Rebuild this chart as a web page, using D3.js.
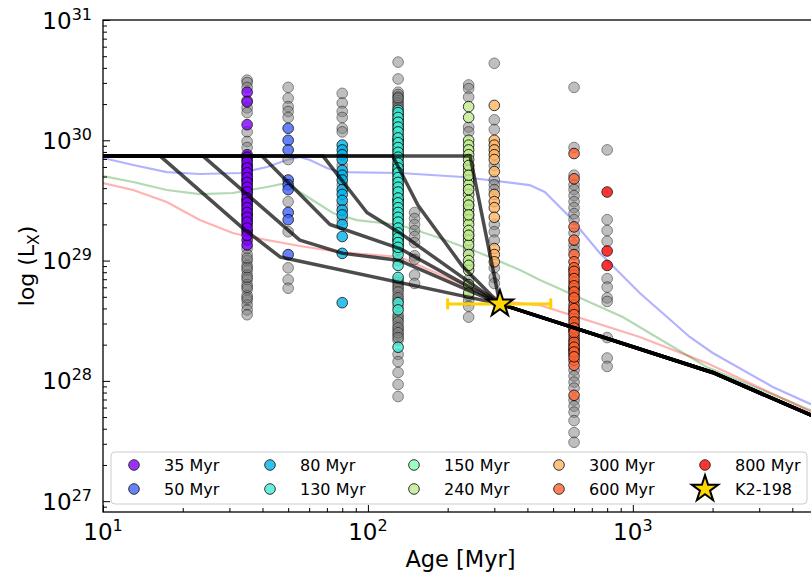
<!DOCTYPE html>
<html><head><meta charset="utf-8">
<script src="https://cdn.jsdelivr.net/npm/d3@7"></script>
<style>body{margin:0;background:#fff}svg{display:block;font-family:"DejaVu Sans",sans-serif}</style>
</head><body><svg id="c" width="811" height="576"></svg>
<script>
// ---------------- DATA ----------------
const clusterAges = [35, 50, 80, 130, 150, 240, 300, 600, 800];
const clusterLabels = ["35 Myr","50 Myr","80 Myr","130 Myr","150 Myr","240 Myr","300 Myr","600 Myr","800 Myr"];
// log10(Lx) of all stars (grey) and of the selected stars (coloured), per cluster
const gray35 = [30.50,30.48,30.44,30.33,30.27,30.23,30.07,29.99,29.94,29.79,29.67,29.50,29.38,29.25,29.10,29.05,29.00,28.96,28.92,28.88,28.84,28.80,28.76,28.71,28.67,28.63,28.59,28.55,29.02,28.94,28.86,28.78,28.69];
const sel35  = [30.40,30.32,30.13,29.88,29.84,29.79,29.75,29.71,29.67,29.63,29.59,29.55,29.50,29.46,29.42,29.38,29.34,29.30,29.24,29.17,29.13,29.86,29.82,29.77,29.73,29.69,29.65,29.61,29.57,29.52,29.48,29.44,29.40,29.36,29.32,29.27,29.21];
const gray50 = [30.44,30.35,30.28,30.24,30.19,29.84,29.49,29.24,28.94,28.84,28.77];
const sel50  = [30.10,30.00,29.92,29.67,29.63,29.59,29.40,29.34,29.05];
const gray80 = [30.39,30.31,30.24,30.19,30.10,30.07,29.79,29.63,29.46,29.34];
const sel80  = [29.96,29.92,29.88,29.84,29.75,29.71,29.67,29.59,29.55,29.50,29.42,29.38,29.30,29.20,29.06,28.65];
const gray130 = [30.65,30.51,30.40,30.38,30.36,30.33,30.31,30.29,30.00,29.75,29.50,29.17,29.00,28.84,28.80,28.76,28.71,28.67,28.55,28.51,28.46,28.42,28.38,28.34,28.22,28.16,28.07,27.97,27.87,30.35,30.27,28.82,28.78,28.74,28.69,28.62,28.53,28.49,28.44,28.40,28.36];
const sel130  = [30.25,30.21,30.17,30.13,30.09,30.04,30.00,29.96,29.92,29.88,29.84,29.79,29.75,29.71,29.67,29.63,29.59,29.55,29.50,29.46,29.42,29.38,29.34,29.30,29.25,29.21,29.17,29.13,29.09,29.05,28.96,28.86,28.65,28.59,28.28,30.23,30.19,30.15,30.11,30.07,30.02,29.98,29.94,29.90,29.86,29.81,29.77,29.73,29.69,29.65,29.61,29.57,29.52,29.48,29.44,29.40,29.36,29.32,29.27,29.23,29.19,29.15,29.11];
const gray150 = [29.40,29.35,29.30,29.25,29.20,29.15,29.04,29.01,28.88,28.81];
const sel150  = [];
const gray240 = [30.46,30.43,30.36,30.11,30.07,29.79,29.71,29.59,29.46,29.38,29.21,29.09,28.96,28.84,28.71,28.67,28.62,28.53];
const sel240  = [30.28,30.19,30.00,29.96,29.92,29.88,29.84,29.75,29.67,29.63,29.55,29.50,29.42,29.34,29.30,29.25,29.17,29.13,29.05,29.00,28.92,28.80,28.73,29.79,29.71,29.59,29.46,29.38,29.21,28.96];
const gray300 = [30.64,30.17,30.09,29.79,29.67,29.63,29.59,29.30,29.24,29.17,28.94,28.86,28.81];
const sel300  = [30.29,30.00,29.96,29.92,29.88,29.84,29.74,29.55,29.49,29.44,29.36,29.10,29.05,28.99];
const gray600 = [30.44,29.94,29.71,29.63,29.59,29.54,29.49,29.44,29.39,29.34,29.23,29.13,29.09,28.92,28.76,28.59,28.42,28.26,28.09,28.04,27.99,27.94,27.84,27.79,27.74,27.67,27.57,27.49];
const sel600  = [29.89,29.68,29.28,29.17,29.05,28.99,28.94,28.88,28.82,28.77,28.71,28.67,28.63,28.57,28.52,28.46,28.42,28.37,28.34,28.30,28.26,28.22,28.17,28.13,27.88,28.91,28.85,28.79,28.74,28.69,28.60,28.55,28.49,28.44,28.40,28.32,28.28,28.24,28.20];
const gray800 = [29.92,29.34,29.25,29.16,28.85,28.78,28.69,28.66,28.36,28.19,28.12];
const sel800  = [29.57,29.08,28.96];

// K2-198
const starAge = 315, starAgeLo = 200, starAgeHi = 490, starLogLx = 28.64;

// evolutionary tracks [age Myr, log Lx]
const postStar = [[315,28.64],[2000,28.07],[5000,27.69]];
const track1 = [[5,29.87],[16.4,29.87],[33.7,29.27],[46.6,29.03]];
const track2 = [[5,29.87],[23.8,29.87],[55.3,29.17],[80.5,29.06],[132,29.00]];
const track3 = [[5,29.87],[39.8,29.87],[71.9,29.30],[132,29.10]];
const track4 = [[5,29.87],[67.6,29.87],[99.1,29.40],[132,29.23]];
const track5 = [[5,29.87],[124,29.87],[154.5,29.46],[228,28.95]];
const track6 = [[5,29.87],[243,29.87]];

// model curves [age Myr, log Lx]
const modelBlue = [[10,29.853],[13,29.795],[17.4,29.736],[23.2,29.72],[32.9,29.728],[41.6,29.778],[49.4,29.836],[55.3,29.861],[60.4,29.836],[70,29.77],[78.4,29.736],[132,29.728],[228,29.695],[408,29.628],[465,29.57],[578,29.362],[750,29.063],[1062,28.73],[1640,28.365],[2004,28.232],[3375,27.95],[5000,27.78]];
const modelGreen = [[10,29.703],[13,29.653],[17.4,29.587],[23.2,29.553],[30.9,29.562],[41.6,29.612],[49.4,29.645],[55.3,29.57],[73.8,29.396],[90.8,29.337],[132,29.296],[182,29.196],[265,29.063],[375,28.922],[446,28.839],[916,28.531],[1901,28.115],[5000,27.73]];
const modelRed = [[10,29.645],[13,29.587],[17.4,29.487],[23.2,29.337],[30.9,29.229],[35.9,29.196],[55.3,29.121],[78.4,29.071],[132,29.03],[222,28.814],[335,28.656],[446,28.63],[1062,28.365],[1901,28.149],[5000,27.716]];

const xMajor = [10, 100, 1000];
const yMajor = [1e27, 1e28, 1e29, 1e30, 1e31];

// ---------------- DRAW ----------------
const svg = d3.select("#c");
const L = 103, T = 20, R = 818, B = 512;
const x = d3.scaleLog().domain([10, 5000]).range([L, R]);
const y = d3.scaleLog().domain([Math.pow(10, 26.91), 1e31]).range([B, T]);
const Y = v => y(Math.pow(10, v));

svg.append("defs").append("clipPath").attr("id","clip")
  .append("rect").attr("x",L).attr("y",T).attr("width",R-L).attr("height",B-T);
const plot = svg.append("g").attr("clip-path","url(#clip)");

const rainbow = t => { const r=Math.min(1,Math.abs(2*t-0.5)), g=Math.sin(Math.PI*t), b=Math.cos(Math.PI*t/2);
  return d3.rgb(r*255,g*255,b*255).formatHex(); };
const colors = clusterAges.map((d,i)=>rainbow(i/(clusterAges.length-1)));

const line = d3.line().x(d=>x(d[0])).y(d=>Y(d[1]));
[[modelBlue,"blue"],[modelGreen,"green"],[modelRed,"red"]].forEach(([d,c])=>{
  plot.append("path").attr("d",line(d)).attr("fill","none").attr("stroke",c)
    .attr("stroke-opacity",0.3).attr("stroke-width",2.2);
});

const grays = [gray35,gray50,gray80,gray130,gray150,gray240,gray300,gray600,gray800];
const sels = [sel35,sel50,sel80,sel130,sel150,sel240,sel300,sel600,sel800];
clusterAges.forEach((age,i)=>{
  plot.append("g").selectAll("circle").data(grays[i]).join("circle")
    .attr("cx",x(age)).attr("cy",d=>Y(d)).attr("r",5.3)
    .attr("fill","gray").attr("stroke","black").attr("stroke-width",1).attr("opacity",0.5);
  plot.append("g").selectAll("circle").data(sels[i]).join("circle")
    .attr("cx",x(age)).attr("cy",d=>Y(d)).attr("r",5.3)
    .attr("fill",colors[i]).attr("stroke","black").attr("stroke-width",1).attr("opacity",0.8);
});

[track1,track2,track3,track4,track5,track6].forEach(t=>{
  plot.append("path").attr("d",line(t.concat(postStar))).attr("fill","none")
    .attr("stroke","black").attr("stroke-opacity",0.7).attr("stroke-width",3.5)
    .attr("stroke-linejoin","round");
});

// error bar + star
const eb = plot.append("g").attr("stroke","#ffd000").attr("stroke-width",3);
eb.append("line").attr("x1",x(starAgeLo)).attr("x2",x(starAgeHi)).attr("y1",Y(starLogLx)).attr("y2",Y(starLogLx));
[starAgeLo,starAgeHi].forEach(a=>eb.append("line").attr("x1",x(a)).attr("x2",x(a)).attr("y1",Y(starLogLx)-5.5).attr("y2",Y(starLogLx)+5.5));
const star = d3.symbol().type(d3.symbolStar).size(215);
plot.append("path").attr("d",star()).attr("transform",`translate(${x(starAge)},${Y(starLogLx)})`)
  .attr("fill","#ffd700").attr("stroke","black").attr("stroke-width",2).attr("stroke-linejoin","miter");

// axes (ticks inward)
const xMinor = [];
[10,100,1000].forEach(b=>{for(let k=2;k<=9;k++) if(b*k<=5000) xMinor.push(b*k);});
const yMinor = [];
[1e26,1e27,1e28,1e29,1e30].forEach(b=>{for(let k=2;k<=9;k++) if(b*k>=Math.pow(10,26.91)) yMinor.push(b*k);});

const gx = svg.append("g").attr("transform",`translate(0,${B})`);
gx.call(d3.axisTop(x).tickValues(xMajor).tickSize(7).tickFormat(""));
const gx2 = svg.append("g").attr("transform",`translate(0,${B})`);
gx2.call(d3.axisTop(x).tickValues(xMinor).tickSize(4).tickFormat(""));
const gy = svg.append("g").attr("transform",`translate(${L},0)`);
gy.call(d3.axisRight(y).tickValues(yMajor).tickSize(7).tickFormat(""));
const gy2 = svg.append("g").attr("transform",`translate(${L},0)`);
gy2.call(d3.axisRight(y).tickValues(yMinor).tickSize(4).tickFormat(""));
[gx,gx2,gy,gy2].forEach(g=>{g.select(".domain").remove(); g.selectAll("line").attr("stroke","black").attr("stroke-width",1);});

// spines
svg.append("rect").attr("x",L).attr("y",T).attr("width",R-L).attr("height",B-T)
  .attr("fill","none").attr("stroke","black").attr("stroke-width",1.3);

// tick labels
xMajor.forEach(v=>{
  const t = svg.append("text").attr("x",x(v)).attr("y",540).attr("text-anchor","middle").attr("font-size",23);
  t.append("tspan").text("10");
  t.append("tspan").attr("dy",-9).attr("font-size",16).text(String(Math.round(Math.log10(v))));
});
yMajor.forEach(v=>{
  const t = svg.append("text").attr("x",92).attr("y",y(v)+8.5).attr("text-anchor","end").attr("font-size",23);
  t.append("tspan").text("10");
  t.append("tspan").attr("dy",-9).attr("font-size",16).text(String(Math.round(Math.log10(v))));
});

// axis labels
svg.append("text").attr("x",(L+R)/2).attr("y",567).attr("text-anchor","middle").attr("font-size",22.5).text("Age [Myr]");
const yl = svg.append("text").attr("transform",`translate(34,${(T+B)/2}) rotate(-90)`).attr("text-anchor","middle").attr("font-size",22);
yl.append("tspan").text("log (L");
yl.append("tspan").attr("dy",5).attr("font-size",15.5).text("X");
yl.append("tspan").attr("dy",-5).text(")");

// legend
const lg = svg.append("g");
lg.append("rect").attr("x",111).attr("y",452).attr("width",696).attr("height",52).attr("rx",4)
  .attr("fill","white").attr("fill-opacity",0.8).attr("stroke","#cccccc").attr("stroke-width",1);
const colX = [134, 270, 414, 559, 705];
const rowY = [465, 489];
const entries = clusterLabels.map((l,i)=>({label:l,color:colors[i]})).concat([{label:"K2-198",star:true}]);
entries.forEach((e,i)=>{
  const cx = colX[Math.floor(i/2)], cy = rowY[i%2];
  if(e.star){
    lg.append("path").attr("d",star()).attr("transform",`translate(${cx},${cy})`)
      .attr("fill","#ffd700").attr("stroke","black").attr("stroke-width",2);
  } else {
    lg.append("circle").attr("cx",cx).attr("cy",cy).attr("r",5.3).attr("fill",e.color)
      .attr("stroke","black").attr("stroke-width",1).attr("opacity",0.8);
  }
  lg.append("text").attr("x",cx+30).attr("y",cy+5.5).attr("font-size",16).text(e.label);
});
</script></body></html>
